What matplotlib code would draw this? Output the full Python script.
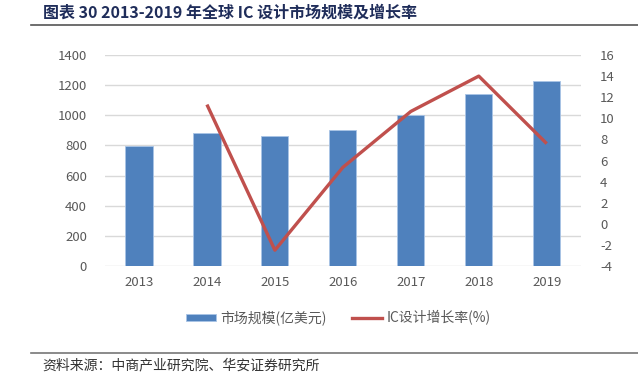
import matplotlib
matplotlib.use("Agg")
import matplotlib.pyplot as plt
from matplotlib.lines import Line2D
from matplotlib.patches import Patch
import numpy as np

plt.rcParams['font.family'] = ['Noto Sans CJK SC', 'DejaVu Sans']
plt.rcParams['axes.unicode_minus'] = False

years = ['2013', '2014', '2015', '2016', '2017', '2018', '2019']
market_size = [793, 882, 860, 904, 1001, 1140, 1225]
growth_years = ['2014', '2015', '2016', '2017', '2018', '2019']
growth_rate = [11.3, -2.5, 5.35, 10.65, 14.0, 7.6]

title = '图表 30 2013-2019 年全球 IC 设计市场规模及增长率'
source = '资料来源：中商产业研究院、华安证券研究所'
bar_label = '市场规模(亿美元)'
line_label = 'IC设计增长率(%)'

fig = plt.figure(figsize=(6.38, 3.75), dpi=100)
ax = fig.add_axes([105/638, 1-266/375, (580.7-105)/638, (266-55)/375])

x = np.arange(len(years))
ax.bar(x, market_size, width=0.40, color='#4F81BD', edgecolor='#a9c4e6', linewidth=0.6, zorder=3)
ax.set_xlim(-0.5, len(years)-0.5)
ax.set_ylim(0, 1400)
ax.set_yticks(np.arange(0, 1401, 200))
ax.set_xticks(x)
ax.set_xticklabels(years)
ax.grid(axis='y', color='#D9D9D9', linewidth=1.0, zorder=0)
ax.set_axisbelow(True)
for s in ax.spines.values():
    s.set_visible(False)
ax.tick_params(axis='both', length=0, labelsize=9.5, colors='#595959')
ax.tick_params(axis='y', pad=13)
ax.tick_params(axis='x', pad=7)

ax2 = ax.twinx()
gx = [years.index(y) for y in growth_years]
ax2.plot(gx, growth_rate, color='#C0504D', linewidth=2.4, zorder=4, solid_capstyle='butt')
ax2.set_ylim(-4, 16)
ax2.set_yticks(np.arange(-4, 17, 2))
for s in ax2.spines.values():
    s.set_visible(False)
ax2.tick_params(axis='y', length=0, labelsize=9.5, colors='#595959', pad=14)

handles = [Patch(facecolor='#4F81BD', edgecolor='#a9c4e6', linewidth=0.6),
           Line2D([0], [0], color='#C0504D', linewidth=2.4)]
fig.legend(handles, [bar_label, line_label], loc='center', bbox_to_anchor=(338/638, 1-318/375),
           ncol=2, frameon=False, fontsize=10, labelcolor='#595959',
           handlelength=2.2, handleheight=0.35, handletextpad=0.3, columnspacing=1.8)

fig.text(42.7/638, 1-13/375, title, fontsize=11.5, fontweight='bold', color='#1F2D5A',
         ha='left', va='center')
fig.add_artist(Line2D([30.7/638, 1.0], [1-24.5/375, 1-24.5/375], color='#555555', linewidth=1.2))
fig.add_artist(Line2D([30.7/638, 1.0], [1-353.3/375, 1-353.3/375], color='#777777', linewidth=1.2))
fig.text(42.7/638, 1-365/375, source, fontsize=10, color='#333333', ha='left', va='center')

fig.savefig('out.png', dpi=100)
